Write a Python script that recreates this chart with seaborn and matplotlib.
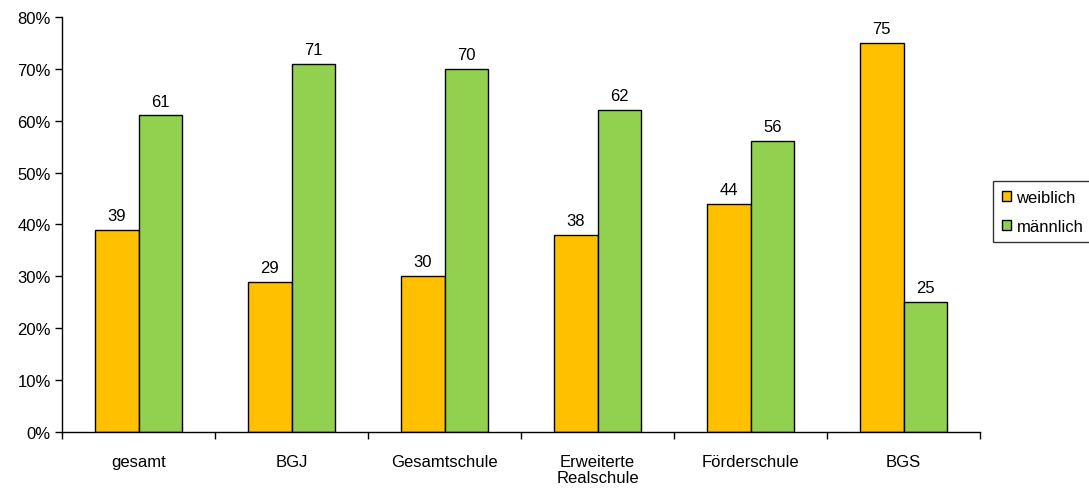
import pandas as pd
import seaborn as sns
import matplotlib.pyplot as plt
from matplotlib.patches import Patch
from matplotlib.ticker import PercentFormatter

# === dados ===
categories = ["gesamt", "BGJ", "Gesamtschule", "Erweiterte\nRealschule", "Förderschule", "BGS"]
weiblich = [39, 29, 30, 38, 44, 75]
maennlich = [61, 71, 70, 62, 56, 25]
series = ["weiblich", "männlich"]
colors = ["#FFC000", "#92D050"]

df = pd.DataFrame({
    "Schule": categories * 2,
    "Anteil": weiblich + maennlich,
    "Geschlecht": [series[0]] * len(categories) + [series[1]] * len(categories),
})

FS = 12

# === plot ===
sns.set_theme(style="white")
plt.rcParams["font.family"] = ["Liberation Sans", "DejaVu Sans"]

fig = plt.figure(figsize=(10.89, 4.89), dpi=100)
ax = fig.add_axes([0.057, 0.1145, 0.843, 0.849])

sns.barplot(
    data=df, x="Schule", y="Anteil", hue="Geschlecht",
    palette=colors, width=0.57, edgecolor="black", linewidth=1.0,
    saturation=1, legend=False, ax=ax,
)

for cont in ax.containers:
    ax.bar_label(cont, fmt="%d", padding=5, fontsize=FS, color="black")

ax.set_ylim(0, 80)
ax.set_xlim(-0.5, len(categories) - 0.5)
ax.set_yticks(range(0, 81, 10))
ax.yaxis.set_major_formatter(PercentFormatter(decimals=0))
ax.tick_params(axis="y", left=True, length=5, width=1, color="black",
               labelsize=FS, labelcolor="black", pad=3)

# ticks nas fronteiras das categorias, rótulos no centro
ax.set_xticks([i - 0.5 for i in range(len(categories) + 1)])
ax.set_xticklabels([])
ax.set_xticks(range(len(categories)), minor=True)
ax.set_xticklabels(categories, minor=True, fontsize=FS, color="black",
                   linespacing=1.1)
ax.tick_params(axis="x", which="major", bottom=True, length=5, width=1, color="black")
ax.tick_params(axis="x", which="minor", bottom=False, length=0, pad=16)

ax.set_xlabel("")
ax.set_ylabel("")
for side in ["top", "right"]:
    ax.spines[side].set_visible(False)
for side in ["left", "bottom"]:
    ax.spines[side].set_color("black")
    ax.spines[side].set_linewidth(1)

handles = [Patch(facecolor=c, edgecolor="black", linewidth=1) for c in colors]
fig.legend(handles, series, loc="upper left", bbox_to_anchor=(0.912, 0.627),
           frameon=True, fancybox=False, edgecolor="black", fontsize=FS,
           labelcolor="black",
           handlelength=0.55, handleheight=0.55, handletextpad=0.35,
           borderpad=0.5, labelspacing=0.85, borderaxespad=0)

plt.savefig("out.png", dpi=100)
